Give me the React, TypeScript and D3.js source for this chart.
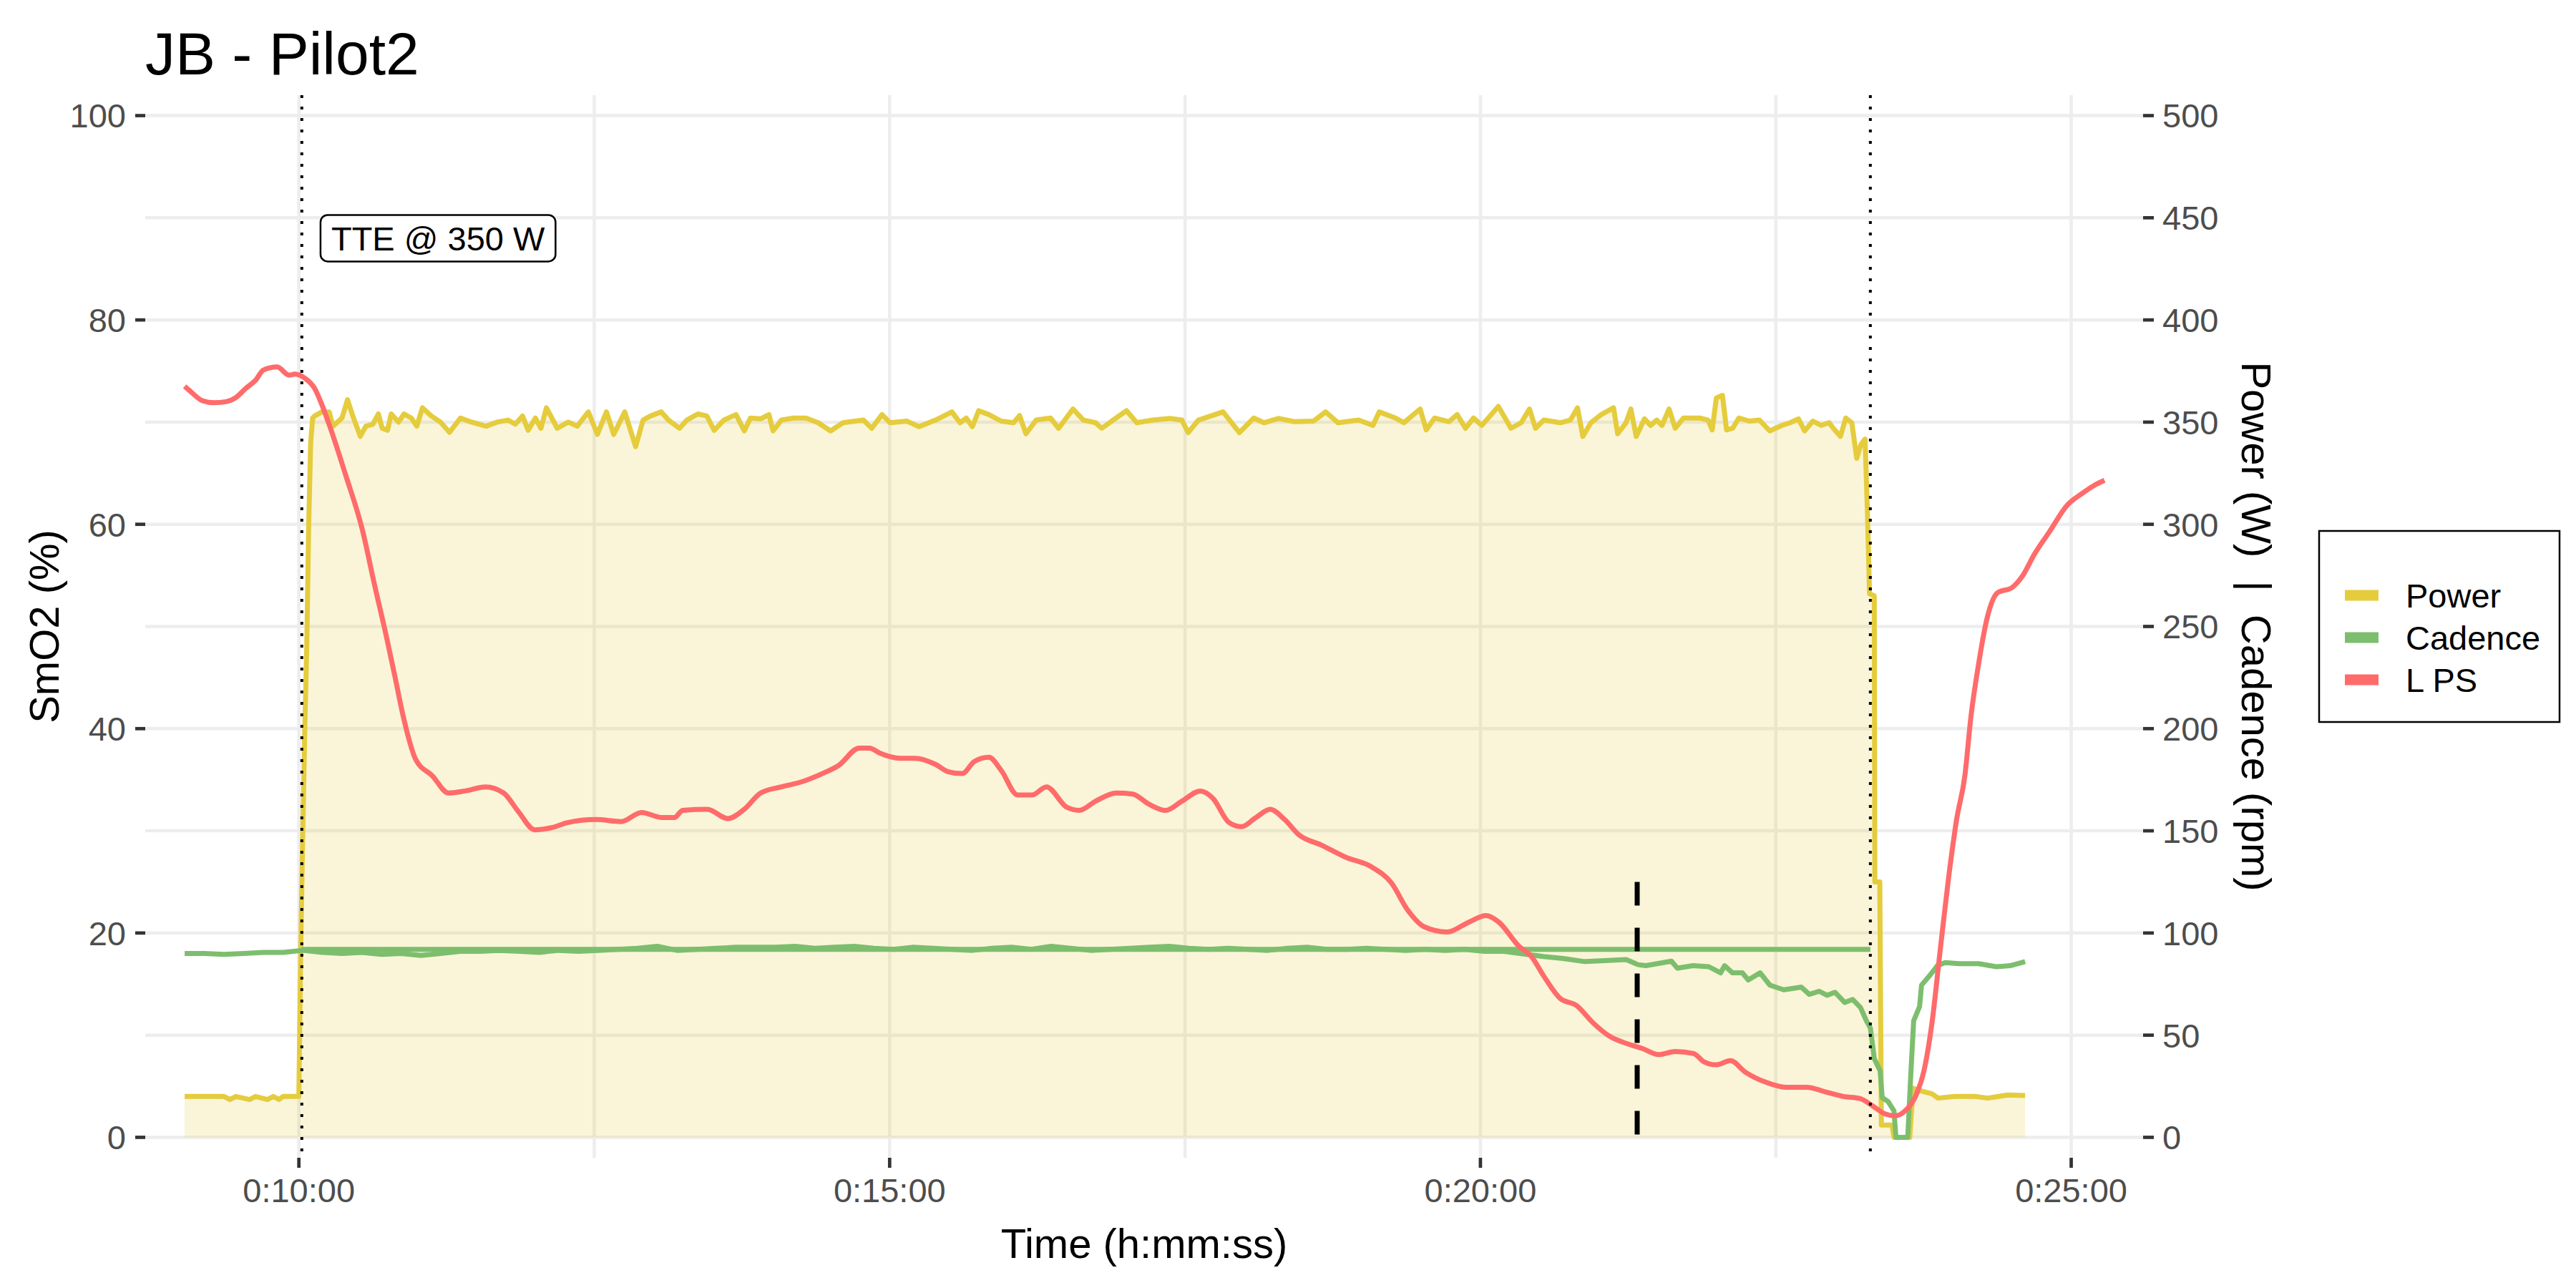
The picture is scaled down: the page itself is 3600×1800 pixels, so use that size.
import React, { useLayoutEffect, useRef, useState } from 'react';
import * as d3 from 'd3';

// ---------- DATA (time in seconds) ----------
const powerTime = [
  542, 555, 562, 565, 568, 575, 578, 584, 587, 590, 592, 600, 601, 602, 603, 604, 605, 606, 607,
  608, 611.7, 615.4, 617.3, 621.9, 624.7, 627.4, 631.2, 634, 637.6, 640.4, 642.3, 645, 646.9, 650.6, 653.4,
  657.1, 659.9, 662.7, 667.3, 671.9, 674.7, 676.5, 682.1, 687.7, 695.1, 700.6, 706.2, 709.9, 713.6, 716.4,
  720.1, 722.9, 725.7, 731.2, 736.8, 741.4, 747, 751.6, 756.2, 759.9, 765.5, 771, 774.8, 778.5, 784, 787.7,
  793.3, 797, 802.6, 807.2, 810.9, 815.8, 822, 826.2, 829.3, 834.5, 838.7, 840.8, 845, 851.2, 857.5, 863.7,
  870, 876.3, 882.5, 886.7, 890.9, 896.1, 900.2, 908.7, 914.9, 923.3, 931.6, 935.8, 938.9, 942, 945.2, 950.4,
  956.6, 962.9, 966, 969.2, 974.4, 981.7, 985.8, 993.1, 998.4, 1004.6, 1007.7, 1015, 1020.3, 1025.5, 1033.8,
  1042.2, 1048.4, 1051.6, 1056.8, 1069.3, 1077.6, 1084.9, 1090.1, 1097.4, 1105.8, 1115.2, 1121.4, 1127.7,
  1138.1, 1145.4, 1148.6, 1156.9, 1161.1, 1169.4, 1172.5, 1176.7, 1184, 1188.2, 1192.4, 1196.5, 1200.7,
  1209.1, 1215.5, 1220.7, 1224.9, 1228, 1232.2, 1240.5, 1245.7, 1249.3, 1252, 1256.1, 1261.4, 1267.6, 1269.7,
  1273.9, 1276.4, 1279.1, 1283.3, 1286.4, 1289.5, 1292.2, 1295.8, 1298.9, 1303.1, 1311.4, 1315.6, 1317.7,
  1319.8, 1322.9, 1325, 1328.1, 1331.2, 1336.5, 1341.7, 1346.9, 1353.1, 1357.3, 1361.5, 1364.6, 1368.8, 1373,
  1377.1, 1379.2, 1382.8, 1385.5, 1388.6, 1391.1, 1393.2, 1395.3, 1396.5, 1397.6, 1400, 1400.3, 1402.8,
  1403.6, 1409, 1410, 1418, 1419.7, 1424.1, 1429.3, 1432.4, 1440.8, 1451.2, 1457.5, 1467.9, 1476.6,
];
const powerWatts = [
  20, 20, 20, 18.5, 20, 18.5, 20, 18.5, 20, 18.5, 20, 20, 95, 150, 200, 240, 300, 340, 352,
  353, 355, 355, 348, 352, 361, 353, 343, 348, 349, 354, 347, 346, 354, 350, 354,
  352, 348, 357, 353, 350, 347, 345, 352, 350, 348, 350, 351, 349, 353, 346,
  352, 347, 357, 347, 350, 348, 355, 344, 355, 344, 355, 338, 351, 353, 355, 351,
  347, 351, 354, 353, 346, 351, 353.7, 345.7, 352, 351.6, 353.7, 345.7, 351, 352, 352, 349.7,
  345.7, 349.7, 350.5, 351, 347, 353.7, 349.7, 350.5, 347.8, 351, 355, 349.7, 352, 347.8, 355.6, 353.7,
  350.5, 349.7, 353.2, 344.3, 351, 352, 347, 356.4, 351, 349.7, 347, 352, 355.6, 349.7, 351,
  351.8, 351, 344.9, 351, 355, 344.9, 352, 349.7, 351.8, 350.2, 350.5, 355, 349.7,
  351, 348.4, 355, 352, 349.7, 356.4, 346.2, 352, 350.2, 353.7, 347, 352, 348.4,
  357.7, 347, 349.7, 356.4, 347, 351, 349.7, 351, 357, 343, 349.7, 353.7, 357, 344.3,
  349.7, 356.4, 343, 351.6, 348.4, 351, 348.4, 356.4, 347, 352, 352, 351, 346.2,
  361.8, 363.1, 346.2, 347, 352, 350.5, 351, 345.7, 348.4, 349.7, 351.6, 345.7, 350.5, 348.4,
  349.7, 347, 343, 352, 349.7, 332.3, 339, 341.7, 306.8, 266, 265, 125, 125,
  6, 6, 0, 0, 24, 22.6, 21.3, 19.2, 20, 20, 19.2, 20.7, 20.5,
];

const cadenceTime = [
  542, 552, 562, 572, 582, 592, 602, 612, 622, 632, 642, 652, 662, 672, 682, 692, 702, 712, 722, 732,
  742, 752, 762, 772, 782, 792, 802, 812, 822, 832, 842, 852, 862, 872, 882, 892, 902, 912, 922, 932,
  942, 952, 962, 972, 982, 992, 1002, 1012, 1022, 1032, 1042, 1052, 1062, 1072, 1082, 1092, 1102, 1112,
  1122, 1132, 1142, 1152, 1162, 1172, 1182, 1192, 1202, 1212, 1220, 1232, 1242, 1253, 1263, 1274, 1280,
  1284, 1297, 1300, 1308, 1316, 1322, 1324, 1328, 1333, 1336, 1342, 1347, 1354, 1363, 1367, 1372, 1376,
  1380, 1385, 1389, 1393, 1396, 1398, 1400, 1403, 1404, 1407, 1410, 1411, 1417, 1418.5, 1420, 1423, 1424,
  1428, 1432, 1436, 1443, 1453, 1462, 1469, 1476.6,
];
const cadenceRpm = [
  90, 90, 89.5, 90, 90.5, 90.5, 91.5, 90.5, 90, 90.5, 89.5, 90, 89, 90, 91, 91, 91.5, 91, 90.5, 91.5,
  91, 91.5, 92, 92.5, 93.5, 91.5, 92, 92.5, 93, 93, 93, 93.5, 92.5, 93, 93.5, 92.5, 92, 93, 92.5, 92,
  91.5, 92.5, 93, 92, 93.5, 92.5, 91.5, 92, 92.5, 93, 93.5, 92.5, 92, 92.5, 92, 91.5, 92.5, 93,
  92, 92, 92.5, 92, 91.5, 92, 91.5, 92, 91, 91, 90, 88.5, 87.5, 86, 86.5, 87, 84.5,
  84, 86.2, 82.8, 84, 83.5, 80.5, 84, 80.5, 80.5, 77, 80.5, 74.5, 72.2, 73.5, 70, 71.5, 69.5,
  71, 66, 67.5, 63.5, 57, 53.5, 38.5, 32.5, 19.5, 17.5, 13, 0, 0, 30, 57, 64, 74.5,
  79, 84, 85.5, 85, 85, 83.5, 84, 86,
];

const lpsTime = [
  542, 545, 551, 557, 563, 568, 573, 578, 582, 589, 595, 598, 603, 608, 611.7, 615.5, 623.8, 632.2, 638.4,
  644.7, 648.9, 653, 659.3, 667.7, 676, 684.3, 694.8, 704, 711.4, 719.8, 728.2, 736.5, 751, 763.6, 774,
  784.5, 790.7, 794.9, 807.4, 817.8, 826.1, 834.5, 845, 855.4, 865.8, 874.1, 884.6, 889.8, 895, 905.4,
  912.9, 923.3, 929.5, 936.8, 943.1, 950.4, 956.7, 965, 972.3, 979.6, 990, 996.3, 1004.6, 1015.1, 1023.4,
  1031.7, 1040.1, 1048.4, 1057.8, 1064.1, 1072.4, 1078.7, 1086, 1093.3, 1100.6, 1107.9, 1119.3, 1131.8,
  1144.4, 1154.8, 1163.2, 1171.5, 1183, 1194.5, 1202.8, 1209.1, 1219.6, 1225.9, 1232.1, 1240.5, 1248.8,
  1257.2, 1265.5, 1273.9, 1282.2, 1290.5, 1298.9, 1308.3, 1313.5, 1319.7, 1327, 1334.4, 1344.8, 1355.2,
  1365.6, 1376.1, 1384.4, 1392.7, 1399, 1405.3, 1410.5, 1415.7, 1420.9, 1425.1, 1429.3, 1433.4, 1437.6,
  1441.8, 1446, 1449.1, 1453.2, 1457.4, 1462.6, 1469.9, 1475.1, 1481.4, 1488.7, 1498.1, 1505.4, 1511.6, 1516.9,
];
const lpsSmO2 = [
  73.5, 73.0, 72.1, 71.9, 72.0, 72.4, 73.3, 74.1, 75.1, 75.4, 74.6, 74.7, 74.3, 73.3, 71.7, 69.7, 64.8, 59.5, 54.1,
  48.8, 45.0, 41.2, 37.0, 35.4, 33.7, 33.9, 34.3, 33.7, 31.9, 30.1, 30.3, 30.8, 31.1, 30.9, 31.8,
  31.3, 31.3, 32.0, 32.1, 31.2, 32.1, 33.7, 34.3, 34.8, 35.6, 36.4, 38.1, 38.1, 37.6, 37.1,
  37.1, 36.5, 35.8, 35.6, 36.8, 37.2, 35.9, 33.5, 33.5, 34.3, 32.3, 32.0, 32.9, 33.7, 33.6,
  32.6, 32.0, 32.9, 33.9, 33.2, 30.8, 30.4, 31.3, 32.1, 31.1, 29.6, 28.6, 27.4,
  26.5, 24.9, 22.2, 20.6, 20.1, 21.1, 21.7, 21.1, 18.7, 17.7, 15.8, 13.6, 12.9,
  11.2, 9.9, 9.2, 8.7, 8.1, 8.4, 8.2, 7.4, 7.1, 7.5, 6.4, 5.4, 4.9,
  4.9, 4.4, 4.0, 3.8, 3.1, 2.3, 2.1, 2.6, 4.0, 6.4, 11.2, 18.2, 25.2,
  31.1, 35.4, 41.2, 46.6, 50.9, 53.3, 53.8, 54.9, 57.1, 59.2, 61.9, 63.0, 63.8, 64.3,
];

// events
const tteStart = 601.5;
const tteEnd = 1398;
const meanCadence = 92;
const markerTime = 1279.6;
const markerTop = 25;
const labelTime = 611;
const labelValue = 88;
const labelText = 'TTE @ 350 W';

// axes
const xMajorTicks = [600, 900, 1200, 1500];
const xMinorTicks = [750, 1050, 1350];
const leftTicks = [0, 20, 40, 60, 80, 100];
const leftMinor = [10, 30, 50, 70, 90];
const rightTicks = [0, 50, 100, 150, 200, 250, 300, 350, 400, 450, 500];
const legendLabels = ['Power', 'Cadence', 'L PS'];
const legendColors = ['#E5CC3D', '#7DBE6E', '#FF6B6B'];

const titleText = 'JB - Pilot2';
const xTitle = 'Time (h:mm:ss)';
const yLeftTitle = 'SmO2 (%)';
const yRightTitle = 'Power (W)  |  Cadence (rpm)';

const FONT = '"Liberation Sans", Arial, Helvetica, sans-serif';

function fmtTime(s: number) {
  const h = Math.floor(s / 3600);
  const m = Math.floor((s % 3600) / 60);
  const sec = Math.round(s % 60);
  return `${h}:${String(m).padStart(2, '0')}:${String(sec).padStart(2, '0')}`;
}

export default function App() {
  const W = 3600;
  const H = 1800;
  const panel = { left: 203, right: 2995, top: 133, bottom: 1618 };
  const x = d3.scaleLinear().domain([522, 1536.5]).range([panel.left, panel.right]);
  const y = d3.scaleLinear().domain([-2, 102]).range([panel.bottom, panel.top]);
  const yR = (v: number) => y(v / 5);

  const powerData = powerTime.map((t, i) => [t, powerWatts[i]] as [number, number]);
  const cadData = cadenceTime.map((t, i) => [t, cadenceRpm[i]] as [number, number]);
  const lpsData = lpsTime.map((t, i) => [t, lpsSmO2[i]] as [number, number]);

  const lineR = d3
    .line<[number, number]>()
    .x((d) => x(d[0]))
    .y((d) => yR(d[1]));
  const lineL = d3
    .line<[number, number]>()
    .x((d) => x(d[0]))
    .y((d) => y(d[1]))
    .curve(d3.curveMonotoneX);
  const area = d3
    .area<[number, number]>()
    .x((d) => x(d[0]))
    .y0(yR(0))
    .y1((d) => yR(d[1]));

  const labelRef = useRef<SVGTextElement>(null);
  const [lw, setLw] = useState(298);
  useLayoutEffect(() => {
    document.body.style.margin = '0';
    if (labelRef.current) setLw(labelRef.current.getComputedTextLength());
  }, []);

  const gridColor = '#EDEDED';
  const gridW = 4.5;
  const tickColor = '#333333';
  const tickText = '#4D4D4D';
  const lineW = 7;

  const lblX = x(labelTime);
  const lblY = y(labelValue);
  const padX = 15;

  const legendX = 3241;
  const legendY = 742;
  const legendRows = [832, 891, 950];

  return (
    <svg
      width={W}
      height={H}
      viewBox={`0 0 ${W} ${H}`}
      style={{ position: 'absolute', left: 0, top: 0, background: '#fff' }}
      fontFamily={FONT}
    >
      <rect x={0} y={0} width={W} height={H} fill="#fff" />
      {/* grid */}
      {leftMinor.concat(leftTicks).map((v) => (
        <line key={'gy' + v} x1={panel.left} x2={panel.right} y1={y(v)} y2={y(v)} stroke={gridColor} strokeWidth={gridW} />
      ))}
      {xMinorTicks.concat(xMajorTicks).map((t) => (
        <line key={'gx' + t} x1={x(t)} x2={x(t)} y1={panel.top} y2={panel.bottom} stroke={gridColor} strokeWidth={gridW} />
      ))}

      {/* power area */}
      <path d={area(powerData) || ''} fill="#E5CC3D" fillOpacity={0.2} stroke="none" />
      {/* power line */}
      <path d={lineR(powerData) || ''} fill="none" stroke="#E5CC3D" strokeWidth={lineW} strokeLinejoin="round" />
      {/* cadence */}
      <path d={lineR(cadData) || ''} fill="none" stroke="#7DBE6E" strokeWidth={lineW} strokeLinejoin="round" />
      <line x1={x(tteStart)} x2={x(tteEnd)} y1={yR(meanCadence)} y2={yR(meanCadence)} stroke="#7DBE6E" strokeWidth={lineW} />
      {/* L PS */}
      <path d={lineL(lpsData) || ''} fill="none" stroke="#FF6B6B" strokeWidth={lineW} strokeLinejoin="round" />

      {/* event lines */}
      {[tteStart, tteEnd].map((t) => (
        <line key={'ev' + t} x1={x(t)} x2={x(t)} y1={panel.top} y2={panel.bottom} stroke="#000" strokeWidth={4} strokeDasharray="4 12" />
      ))}
      <line x1={x(markerTime)} x2={x(markerTime)} y1={y(markerTop)} y2={y(0)} stroke="#000" strokeWidth={7} strokeDasharray="33 31" />

      {/* label */}
      <rect x={lblX} y={lblY - 32.5} width={lw + padX * 2} height={65} rx={10} ry={10} fill="#fff" stroke="#000" strokeWidth={2.5} />
      <text ref={labelRef} x={lblX + padX} y={lblY} dy="0.36em" fontSize={47} fill="#000">
        {labelText}
      </text>

      {/* left axis */}
      {leftTicks.map((v) => (
        <g key={'lt' + v}>
          <line x1={189} x2={panel.left} y1={y(v)} y2={y(v)} stroke={tickColor} strokeWidth={4.7} />
          <text x={176} y={y(v)} dy="0.36em" textAnchor="end" fontSize={47} fill={tickText}>
            {v}
          </text>
        </g>
      ))}
      {/* right axis */}
      {rightTicks.map((v) => (
        <g key={'rt' + v}>
          <line x1={panel.right} x2={3010} y1={yR(v)} y2={yR(v)} stroke={tickColor} strokeWidth={4.7} />
          <text x={3022} y={yR(v)} dy="0.36em" textAnchor="start" fontSize={47} fill={tickText}>
            {v}
          </text>
        </g>
      ))}
      {/* bottom axis */}
      {xMajorTicks.map((t) => (
        <g key={'bt' + t}>
          <line x1={x(t)} x2={x(t)} y1={panel.bottom} y2={1632} stroke={tickColor} strokeWidth={4.7} />
          <text x={x(t)} y={1680} textAnchor="middle" fontSize={47} fill={tickText}>
            {fmtTime(t)}
          </text>
        </g>
      ))}

      {/* titles */}
      <text x={panel.left} y={104} fontSize={84} fill="#000">
        {titleText}
      </text>
      <text x={(panel.left + panel.right) / 2} y={1758} textAnchor="middle" fontSize={58} fill="#000">
        {xTitle}
      </text>
      <text transform={`translate(82, ${(panel.top + panel.bottom) / 2}) rotate(-90)`} textAnchor="middle" fontSize={58} fill="#000">
        {yLeftTitle}
      </text>
      <text
        transform={`translate(3133, ${(panel.top + panel.bottom) / 2}) rotate(90)`}
        textAnchor="middle"
        fontSize={58}
        fill="#000"
        style={{ whiteSpace: 'pre' }}
      >
        {yRightTitle}
      </text>

      {/* legend */}
      <rect x={legendX} y={legendY} width={336} height={267} fill="#fff" stroke="#000" strokeWidth={2.5} />
      {legendLabels.map((lab, i) => (
        <g key={lab}>
          <rect x={3277} y={legendRows[i] - 7.5} width={47} height={15} fill={legendColors[i]} />
          <text x={3362} y={legendRows[i]} dy="0.36em" fontSize={47} fill="#000">
            {lab}
          </text>
        </g>
      ))}
    </svg>
  );
}
